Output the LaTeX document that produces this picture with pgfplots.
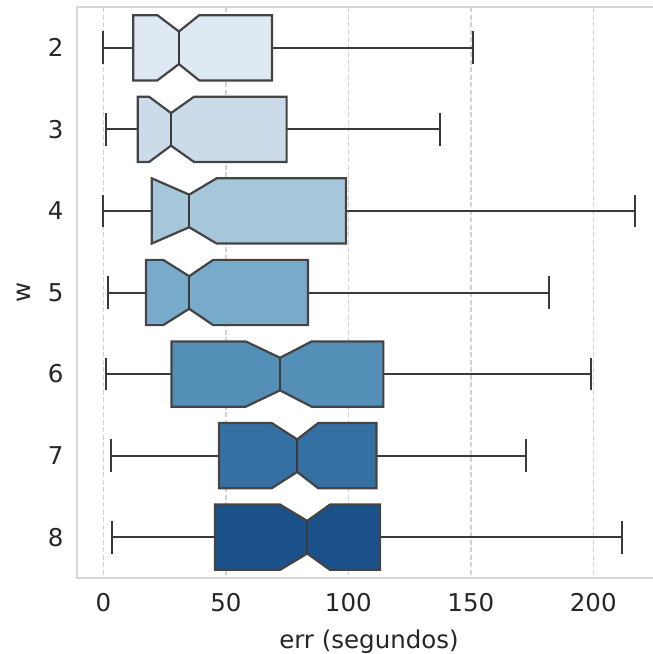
\documentclass[border=0pt]{standalone}
\usepackage{pgfplots}
\pgfplotsset{compat=1.18}
\usepackage{fontspec}
\setmainfont{DejaVu Sans}
\definecolor{cA}{HTML}{DEE9F3}
\definecolor{cB}{HTML}{CBDBEA}
\definecolor{cC}{HTML}{A6C7D9}
\definecolor{cD}{HTML}{78ABC9}
\definecolor{cE}{HTML}{538FB6}
\definecolor{cF}{HTML}{3470A3}
\definecolor{cG}{HTML}{1B518A}
\definecolor{lc}{HTML}{3A3A3A}
\definecolor{bc}{HTML}{444444}
\definecolor{gridc}{HTML}{D2D2D2}
\definecolor{spinec}{HTML}{D6D6D6}
\definecolor{txt}{HTML}{262626}
\begin{document}
\begin{tikzpicture}
\useasboundingbox (-76.9bp,-76bp) rectangle (576.1bp,578bp);
\begin{axis}[
  at={(0,0)}, anchor=south west,
  scale only axis, width=576.1bp, height=571bp,
  xmin=-10.85, xmax=224.4,
  ymin=1.5, ymax=8.5, y dir=reverse,
  ytick={2,3,4,5,6,7,8},
  xtick={0,50,100,150,200},
  xmajorgrids,
  grid style={gridc, line width=1.5bp, dash pattern=on 5bp off 2.5bp},
  major tick length=0,
  axis line style={draw=none},
  /pgf/number format/assume math mode=true,
  tick label style={font=\fontsize{24.5bp}{29bp}\selectfont, text=txt},
  xticklabel style={yshift=-12bp},
  yticklabel style={xshift=-10bp},
  label style={font=\fontsize{24.5bp}{29bp}\selectfont, text=txt},
  xlabel={err (segundos)},
  ylabel={w},
  xlabel style={at={(axis description cs:0.507,-0.1243)}, anchor=base},
  ylabel style={at={(axis description cs:-0.0806,0.5)}, anchor=base},
  clip=false,
]
% whiskers and caps
\addplot[lc, line width=2bp, forget plot] coordinates {(0,2) (12.2,2)};
\addplot[lc, line width=2bp, forget plot] coordinates {(68.8,2) (151.0,2)};
\addplot[lc, line width=2bp, forget plot] coordinates {(0,1.8) (0,2.2)};
\addplot[lc, line width=2bp, forget plot] coordinates {(151.0,1.8) (151.0,2.2)};

\addplot[lc, line width=2bp, forget plot] coordinates {(0.9,3) (14.0,3)};
\addplot[lc, line width=2bp, forget plot] coordinates {(74.8,3) (137.3,3)};
\addplot[lc, line width=2bp, forget plot] coordinates {(0.9,2.8) (0.9,3.2)};
\addplot[lc, line width=2bp, forget plot] coordinates {(137.3,2.8) (137.3,3.2)};

\addplot[lc, line width=2bp, forget plot] coordinates {(0,4) (19.7,4)};
\addplot[lc, line width=2bp, forget plot] coordinates {(99.0,4) (216.9,4)};
\addplot[lc, line width=2bp, forget plot] coordinates {(0,3.8) (0,4.2)};
\addplot[lc, line width=2bp, forget plot] coordinates {(216.9,3.8) (216.9,4.2)};

\addplot[lc, line width=2bp, forget plot] coordinates {(2.0,5) (17.4,5)};
\addplot[lc, line width=2bp, forget plot] coordinates {(83.5,5) (181.8,5)};
\addplot[lc, line width=2bp, forget plot] coordinates {(2.0,4.8) (2.0,5.2)};
\addplot[lc, line width=2bp, forget plot] coordinates {(181.8,4.8) (181.8,5.2)};

\addplot[lc, line width=2bp, forget plot] coordinates {(1.0,6) (27.8,6)};
\addplot[lc, line width=2bp, forget plot] coordinates {(114.3,6) (199.2,6)};
\addplot[lc, line width=2bp, forget plot] coordinates {(1.0,5.8) (1.0,6.2)};
\addplot[lc, line width=2bp, forget plot] coordinates {(199.2,5.8) (199.2,6.2)};

\addplot[lc, line width=2bp, forget plot] coordinates {(2.9,7) (47.2,7)};
\addplot[lc, line width=2bp, forget plot] coordinates {(111.5,7) (172.5,7)};
\addplot[lc, line width=2bp, forget plot] coordinates {(2.9,6.8) (2.9,7.2)};
\addplot[lc, line width=2bp, forget plot] coordinates {(172.5,6.8) (172.5,7.2)};

\addplot[lc, line width=2bp, forget plot] coordinates {(3.6,8) (45.5,8)};
\addplot[lc, line width=2bp, forget plot] coordinates {(112.9,8) (211.8,8)};
\addplot[lc, line width=2bp, forget plot] coordinates {(3.6,7.8) (3.6,8.2)};
\addplot[lc, line width=2bp, forget plot] coordinates {(211.8,7.8) (211.8,8.2)};

% notched boxes
\addplot[fill=cA, draw=bc, line width=2.2bp, line join=miter, forget plot] coordinates {(12.2,1.6) (22.0,1.6) (30.8,1.8) (39.1,1.6) (68.8,1.6) (68.8,2.4) (39.1,2.4) (30.8,2.2) (22.0,2.4) (12.2,2.4)} -- cycle;
\addplot[fill=cB, draw=bc, line width=2.2bp, line join=miter, forget plot] coordinates {(14.0,2.6) (18.6,2.6) (27.6,2.8) (37.0,2.6) (74.8,2.6) (74.8,3.4) (37.0,3.4) (27.6,3.2) (18.6,3.4) (14.0,3.4)} -- cycle;
\addplot[fill=cC, draw=bc, line width=2.2bp, line join=miter, forget plot] coordinates {(19.7,3.6) (19.7,3.6) (35.0,3.8) (46.2,3.6) (99.0,3.6) (99.0,4.4) (46.2,4.4) (35.0,4.2) (19.7,4.4) (19.7,4.4)} -- cycle;
\addplot[fill=cD, draw=bc, line width=2.2bp, line join=miter, forget plot] coordinates {(17.4,4.6) (24.4,4.6) (35.0,4.8) (44.8,4.6) (83.5,4.6) (83.5,5.4) (44.8,5.4) (35.0,5.2) (24.4,5.4) (17.4,5.4)} -- cycle;
\addplot[fill=cE, draw=bc, line width=2.2bp, line join=miter, forget plot] coordinates {(27.8,5.6) (58.1,5.6) (72.1,5.8) (85.0,5.6) (114.3,5.6) (114.3,6.4) (85.0,6.4) (72.1,6.2) (58.1,6.4) (27.8,6.4)} -- cycle;
\addplot[fill=cF, draw=bc, line width=2.2bp, line join=miter, forget plot] coordinates {(47.2,6.6) (68.7,6.6) (79.1,6.8) (87.7,6.6) (111.5,6.6) (111.5,7.4) (87.7,7.4) (79.1,7.2) (68.7,7.4) (47.2,7.4)} -- cycle;
\addplot[fill=cG, draw=bc, line width=2.2bp, line join=miter, forget plot] coordinates {(45.5,7.6) (72.1,7.6) (83.2,7.8) (92.5,7.6) (112.9,7.6) (112.9,8.4) (92.5,8.4) (83.2,8.2) (72.1,8.4) (45.5,8.4)} -- cycle;

% medians
\addplot[lc, line width=2.2bp, forget plot] coordinates {(30.8,1.8) (30.8,2.2)};
\addplot[lc, line width=2.2bp, forget plot] coordinates {(27.6,2.8) (27.6,3.2)};
\addplot[lc, line width=2.2bp, forget plot] coordinates {(35.0,3.8) (35.0,4.2)};
\addplot[lc, line width=2.2bp, forget plot] coordinates {(35.0,4.8) (35.0,5.2)};
\addplot[lc, line width=2.2bp, forget plot] coordinates {(72.1,5.8) (72.1,6.2)};
\addplot[lc, line width=2.2bp, forget plot] coordinates {(79.1,6.8) (79.1,7.2)};
\addplot[lc, line width=2.2bp, forget plot] coordinates {(83.2,7.8) (83.2,8.2)};

% spines (left, top, bottom; right one is cropped off)
\draw[spinec, line width=2bp] (rel axis cs:1,0) -- (rel axis cs:0,0) -- (rel axis cs:0,1) -- (rel axis cs:1,1);
\end{axis}
\end{tikzpicture}
\end{document}
